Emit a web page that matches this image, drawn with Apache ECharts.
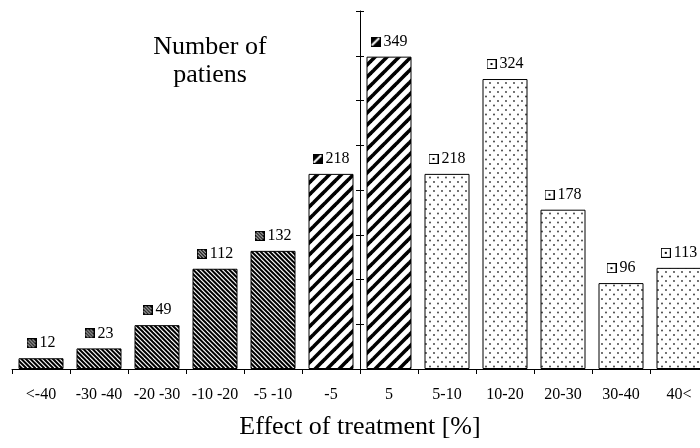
<!DOCTYPE html>
<html>
<head>
<meta charset="utf-8">
<script src="https://cdn.jsdelivr.net/npm/echarts@6/dist/echarts.min.js"></script>
<style>html,body{margin:0;padding:0;background:#fff;}#chart{width:700px;height:448px;}</style>
</head>
<body>
<div id="chart"></div>
<script>
const categories = ['<-40', '-30 -40', '-20 -30', '-10 -20', '-5 -10', '-5', '5', '5-10', '10-20', '20-30', '30-40', '40<'];
const values = [12, 23, 49, 112, 132, 218, 349, 218, 324, 178, 96, 113];
const groups = ['a', 'a', 'a', 'a', 'a', 'b', 'b', 'c', 'c', 'c', 'c', 'c'];
const yMin = 0, yMax = 400, yInterval = 50;
const titleText = 'Number of\npatiens';
const xName = 'Effect of treatment [%]';

const FONT = 'Liberation Serif';

function makeCanvas(w, h) {
  const c = document.createElement('canvas');
  c.width = w; c.height = h;
  return c;
}
function stripeTileUp(size, lw) {
  const c = makeCanvas(size, size), g = c.getContext('2d');
  g.fillStyle = '#fff'; g.fillRect(0, 0, size, size);
  g.strokeStyle = '#000'; g.lineWidth = lw;
  for (let k = -2; k <= 2; k++) {
    g.beginPath(); g.moveTo(k * size - size, 2 * size); g.lineTo(k * size + 2 * size, -size); g.stroke();
  }
  return c;
}
function stripeTileDown2(size, lw) {
  const c = makeCanvas(size, size), g = c.getContext('2d');
  g.fillStyle = '#fff'; g.fillRect(0, 0, size, size);
  g.strokeStyle = '#000'; g.lineWidth = lw;
  for (let k = -4; k <= 4; k++) {
    const o = k * size / 2;
    g.beginPath(); g.moveTo(o - size, -size); g.lineTo(o + 2 * size, 2 * size); g.stroke();
  }
  return c;
}
function dotTile() {
  const c = makeCanvas(8, 9), g = c.getContext('2d');
  g.fillStyle = '#fff'; g.fillRect(0, 0, 8, 9);
  g.fillStyle = '#333';
  g.beginPath(); g.arc(2, 2, 0.9, 0, Math.PI * 2); g.fill();
  g.beginPath(); g.arc(6, 6.5, 0.9, 0, Math.PI * 2); g.fill();
  return c;
}
const pats = {
  a: { image: stripeTileDown2(9, 2.0), repeat: 'repeat' },
  b: { image: stripeTileUp(12, 3.6), repeat: 'repeat' },
  c: { image: dotTile(), repeat: 'repeat' }
};

function iconA() {
  const c = makeCanvas(10, 10), g = c.getContext('2d');
  g.fillStyle = '#fff'; g.fillRect(0, 0, 10, 10);
  g.strokeStyle = '#000'; g.lineWidth = 1.5;
  for (let k = -4; k <= 4; k++) {
    const o = k * 3.3;
    g.beginPath(); g.moveTo(o - 10, -10); g.lineTo(o + 20, 20); g.stroke();
  }
  g.lineWidth = 1; g.strokeRect(0.5, 0.5, 9, 9);
  return c;
}
function iconB() {
  const c = makeCanvas(10, 10), g = c.getContext('2d');
  g.fillStyle = '#000'; g.fillRect(0, 0, 10, 10);
  g.strokeStyle = '#fff'; g.lineWidth = 2;
  g.beginPath(); g.moveTo(0, 19.5); g.lineTo(19.5, 0); g.stroke();
  g.beginPath(); g.moveTo(-1, 11); g.lineTo(11, -1); g.stroke();
  g.strokeStyle = '#000'; g.lineWidth = 1; g.strokeRect(0.5, 0.5, 9, 9);
  return c;
}
function iconC() {
  const c = makeCanvas(10, 10), g = c.getContext('2d');
  g.fillStyle = '#fff'; g.fillRect(0, 0, 10, 10);
  g.fillStyle = '#000'; g.fillRect(4, 4, 2, 2);
  g.strokeStyle = '#000'; g.lineWidth = 1; g.strokeRect(0.5, 0.5, 9, 9);
  return c;
}

const chart = echarts.init(document.getElementById('chart'), null, { renderer: 'canvas' });

const data = values.map((v, i) => ({
  value: v,
  itemStyle: { color: pats[groups[i]] }
}));

const tickStyle = { color: '#000', width: 1 };

chart.setOption({
  animation: false,
  backgroundColor: '#fff',
  grid: { left: 12, top: 11, width: 696, height: 358, containLabel: false, outerBoundsMode: 'none' },
  graphic: [{
    type: 'text', x: 210, y: 33,
    style: { text: titleText, font: '26px "' + FONT + '"', fill: '#000', textAlign: 'center', textVerticalAlign: 'top', lineHeight: 28 }
  }],
  xAxis: {
    type: 'category',
    data: categories,
    boundaryGap: true,
    name: xName,
    nameLocation: 'middle',
    nameGap: 45,
    nameTextStyle: { fontFamily: FONT, fontSize: 26, color: '#000' },
    axisLine: { show: true, lineStyle: tickStyle },
    axisTick: { show: true, length: 5, interval: 0, lineStyle: tickStyle },
    axisLabel: { interval: 0, margin: 18, fontFamily: FONT, fontSize: 16, color: '#000' },
    splitLine: { show: false }
  },
  yAxis: [{
    type: 'value', min: yMin, max: yMax, interval: yInterval,
    position: 'left', offset: -348,
    axisLine: { show: true, lineStyle: tickStyle },
    axisTick: { show: true, length: 4, lineStyle: tickStyle },
    axisLabel: { show: false },
    splitLine: { show: false }
  }, {
    type: 'value', min: yMin, max: yMax, interval: yInterval,
    position: 'left', offset: -348,
    axisLine: { show: false },
    axisTick: { show: true, inside: true, length: 4, lineStyle: tickStyle },
    axisLabel: { show: false },
    splitLine: { show: false }
  }],
  series: [{
    type: 'bar',
    data: data,
    barWidth: 45,
    itemStyle: { borderColor: '#000', borderWidth: 1 },
    label: {
      show: true,
      position: 'top',
      distance: 7,
      formatter: function (p) { return '{i' + groups[p.dataIndex] + '|}{v|' + p.value + '}'; },
      rich: {
        ia: { width: 10, height: 10, backgroundColor: { image: iconA() }, verticalAlign: 'middle' },
        ib: { width: 10, height: 10, backgroundColor: { image: iconB() }, verticalAlign: 'middle' },
        ic: { width: 10, height: 10, backgroundColor: { image: iconC() }, verticalAlign: 'middle' },
        v: { fontFamily: FONT, fontSize: 16, color: '#000', padding: [0, 0, 0, 3], verticalAlign: 'middle' }
      }
    }
  }]
});
</script>
</body>
</html>
